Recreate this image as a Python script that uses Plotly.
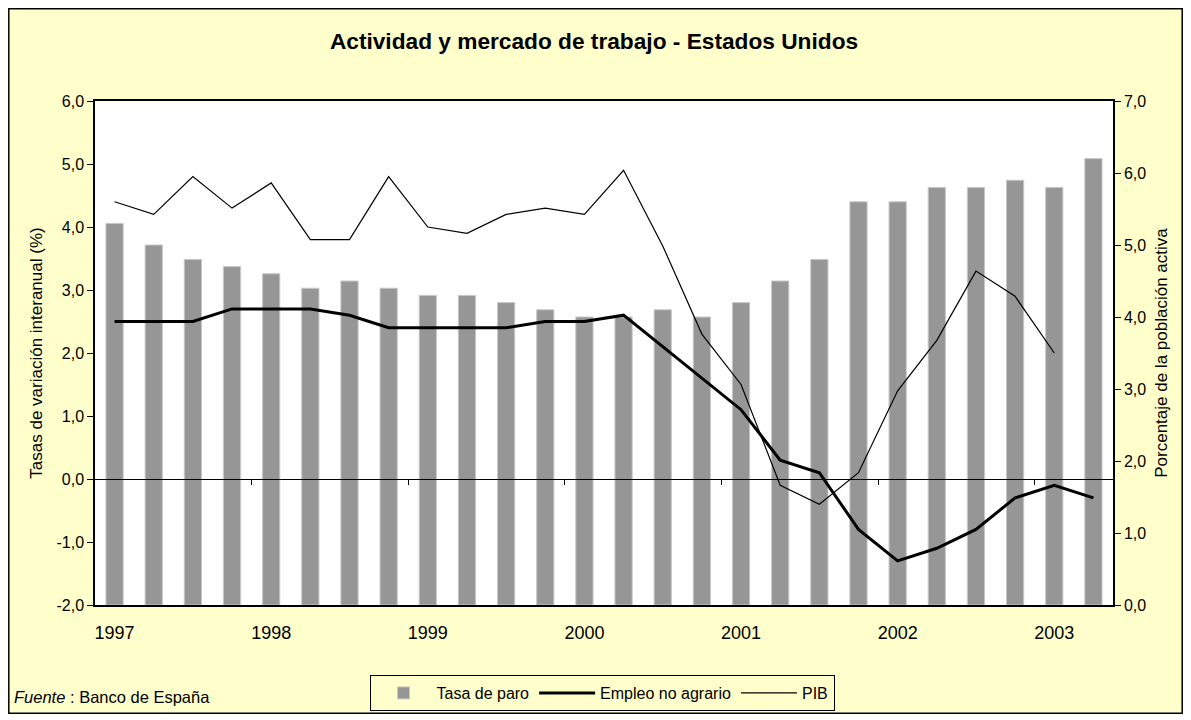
import plotly.graph_objects as go

quarters = ["1997-I", "1997-II", "1997-III", "1997-IV",
            "1998-I", "1998-II", "1998-III", "1998-IV",
            "1999-I", "1999-II", "1999-III", "1999-IV",
            "2000-I", "2000-II", "2000-III", "2000-IV",
            "2001-I", "2001-II", "2001-III", "2001-IV",
            "2002-I", "2002-II", "2002-III", "2002-IV",
            "2003-I", "2003-II"]

tasa_paro = [5.3, 5.0, 4.8, 4.7, 4.6, 4.4, 4.5, 4.4, 4.3, 4.3, 4.2, 4.1, 4.0,
             4.0, 4.1, 4.0, 4.2, 4.5, 4.8, 5.6, 5.6, 5.8, 5.8, 5.9, 5.8, 6.2]

empleo_no_agrario = [2.5, 2.5, 2.5, 2.7, 2.7, 2.7, 2.6, 2.4, 2.4, 2.4, 2.4, 2.5, 2.5,
                     2.6, 2.1, 1.6, 1.1, 0.3, 0.1, -0.8, -1.3, -1.1, -0.8, -0.3, -0.1, -0.3]

pib = [4.4, 4.2, 4.8, 4.3, 4.7, 3.8, 3.8, 4.8, 4.0, 3.9, 4.2, 4.3, 4.2,
       4.9, 3.7, 2.3, 1.5, -0.1, -0.4, 0.1, 1.4, 2.2, 3.3, 2.9, 2.0, None]

year_ticks = ["1997-I", "1998-I", "1999-I", "2000-I", "2001-I", "2002-I", "2003-I"]
year_labels = ["1997", "1998", "1999", "2000", "2001", "2002", "2003"]
boundary_ticks = [3.5, 7.5, 11.5, 15.5, 19.5, 23.5]

left_ticks = [-2, -1, 0, 1, 2, 3, 4, 5, 6]
left_labels = ["-2,0", "-1,0", "0,0", "1,0", "2,0", "3,0", "4,0", "5,0", "6,0"]
right_ticks = [0, 1, 2, 3, 4, 5, 6, 7]
right_labels = ["0,0", "1,0", "2,0", "3,0", "4,0", "5,0", "6,0", "7,0"]

left_range = [-2, 6]
right_range = [0, 7]

FONT = "Liberation Sans, Arial, sans-serif"
BG = "#FFFFCC"

# figure sits at page offset (8, 8) because of the default body margin
W, H = 1175, 706
ML, MR, MT, MB = 87, 70, 93, 109
PW, PH = W - ML - MR, H - MT - MB


def px(xp):
    return (xp - 8 - ML) / PW


def py(yp):
    return (H - MB - (yp - 8)) / PH


fig = go.Figure()

fig.add_trace(go.Bar(
    x=quarters, y=tasa_paro, name="Tasa de paro",
    marker=dict(color="#969696", line=dict(color="#C8C8C8", width=1)),
    width=0.44, yaxis="y", xaxis="x",
))
fig.add_trace(go.Scatter(
    x=quarters, y=empleo_no_agrario, name="Empleo no agrario", mode="lines",
    line=dict(color="black", width=3), yaxis="y2", xaxis="x",
))
fig.add_trace(go.Scatter(
    x=quarters, y=pib, name="PIB", mode="lines",
    line=dict(color="black", width=1.2), yaxis="y2", xaxis="x",
))
# empty helper trace so that the crossing axis (x2) at y = 0 is drawn
fig.add_trace(go.Scatter(
    x=list(range(len(quarters))), y=[None] * len(quarters), mode="lines",
    showlegend=False, hoverinfo="skip", xaxis="x2", yaxis="y2",
))

fig.update_layout(
    width=W, height=H,
    margin=dict(l=ML, r=MR, t=MT, b=MB, autoexpand=False),
    paper_bgcolor=BG, plot_bgcolor="white",
    font=dict(family=FONT, color="black", size=14),
    separators=",.",
    showlegend=True,
    title=dict(text="<b>Actividad y mercado de trabajo - Estados Unidos</b>",
               x=(594 - 8) / W, xref="container", xanchor="center",
               y=1 - (41 - 8) / H, yref="container", yanchor="middle",
               font=dict(size=22.7, family=FONT)),
    xaxis=dict(
        type="category", categoryorder="array", categoryarray=quarters,
        range=[-0.5, 25.5], tickmode="array", tickvals=year_ticks, ticktext=year_labels,
        ticks="", showline=True, linecolor="black", linewidth=1.5, mirror=True,
        showgrid=False, zeroline=False, tickfont=dict(size=18),
        ticklabelstandoff=11,
    ),
    xaxis2=dict(
        overlaying="x", anchor="free", position=0.25, type="linear",
        range=[-0.5, 25.5], tickmode="array", tickvals=boundary_ticks,
        showticklabels=False, ticks="outside", ticklen=5, tickcolor="black", tickwidth=1,
        showline=True, linecolor="black", linewidth=1, showgrid=False, zeroline=False,
    ),
    yaxis=dict(
        side="right", range=right_range, tickmode="array",
        tickvals=right_ticks, ticktext=right_labels,
        ticks="outside", ticklen=6, tickcolor="black", tickwidth=1.3,
        showline=True, linecolor="black", linewidth=1.5, showgrid=False, zeroline=False,
        tickfont=dict(size=16),
        title=dict(text="Porcentaje de la población activa", font=dict(size=17), standoff=10),
    ),
    yaxis2=dict(
        overlaying="y", side="left", range=left_range, tickmode="array",
        tickvals=left_ticks, ticktext=left_labels,
        ticks="outside", ticklen=6, tickcolor="black", tickwidth=1.3,
        showline=True, linecolor="black", linewidth=1.5, showgrid=False, zeroline=False,
        tickfont=dict(size=16),
        title=dict(text="Tasas de variación interanual (%)", font=dict(size=17), standoff=10),
    ),
    legend=dict(
        orientation="h", x=px(602), xanchor="center", y=py(711), yanchor="bottom",
        bgcolor=BG, bordercolor="black", borderwidth=1,
        font=dict(size=16, family=FONT), traceorder="normal",
        itemwidth=56, tracegroupgap=0,
    ),
)

fig.add_annotation(
    text="<i>Fuente</i> : Banco de España", xref="paper", yref="paper",
    x=px(12), y=py(697), xanchor="left", yanchor="middle",
    showarrow=False, font=dict(size=16.5, family=FONT),
)

# outer frame of the chart area
fig.add_shape(
    type="rect", xref="paper", yref="paper",
    x0=(-ML + 0.8) / PW, x1=(W - ML - 0.8) / PW,
    y0=(-MB + 0.8) / PH, y1=(H - MB - 0.8) / PH,
    line=dict(color="black", width=1.5), fillcolor="rgba(0,0,0,0)", layer="below",
)

fig.write_html("out.html")
